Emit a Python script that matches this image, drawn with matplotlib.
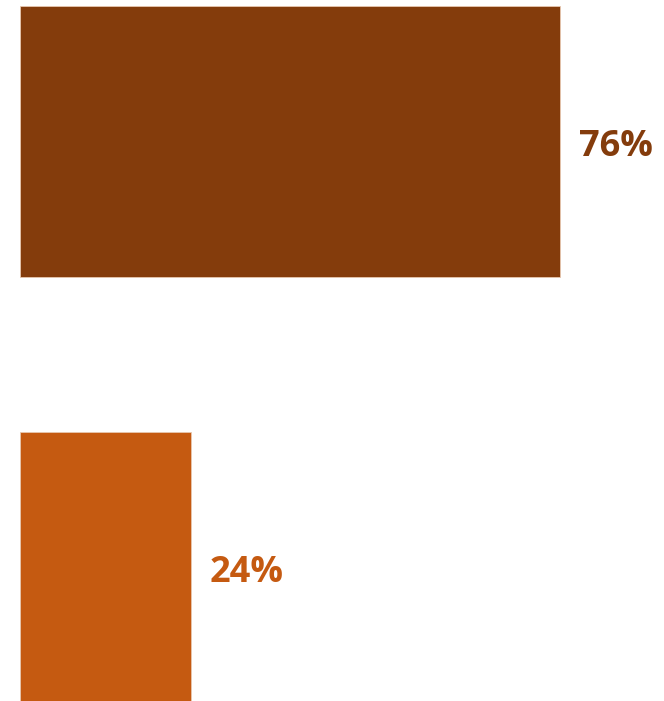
import matplotlib
matplotlib.use("Agg")
import matplotlib.pyplot as plt

categories = ["A", "B"]
values = [76, 24]
labels = ["76%", "24%"]
colors = ["#843C0C", "#C55A11"]

fig = plt.figure(figsize=(6.64, 7.01), dpi=100)
ax = fig.add_axes([0, 0, 1, 1])

pos = list(range(len(values)))
ax.barh(pos, values, height=0.636, color=colors, edgecolor="#e8c8b0", linewidth=0.6)
for p, v, lab, c in zip(pos, values, labels, colors):
    ax.annotate(lab, (v, p), xytext=(13.5, -4.0), textcoords="offset points",
                ha="left", va="center", fontsize=26, fontweight="bold",
                color=c, family=["Open Sans", "DejaVu Sans"])

ax.set_xlim(-2.815, 90.64)
ax.set_ylim(1.313, -0.332)
ax.axis("off")
fig.savefig("out.png", dpi=100)
